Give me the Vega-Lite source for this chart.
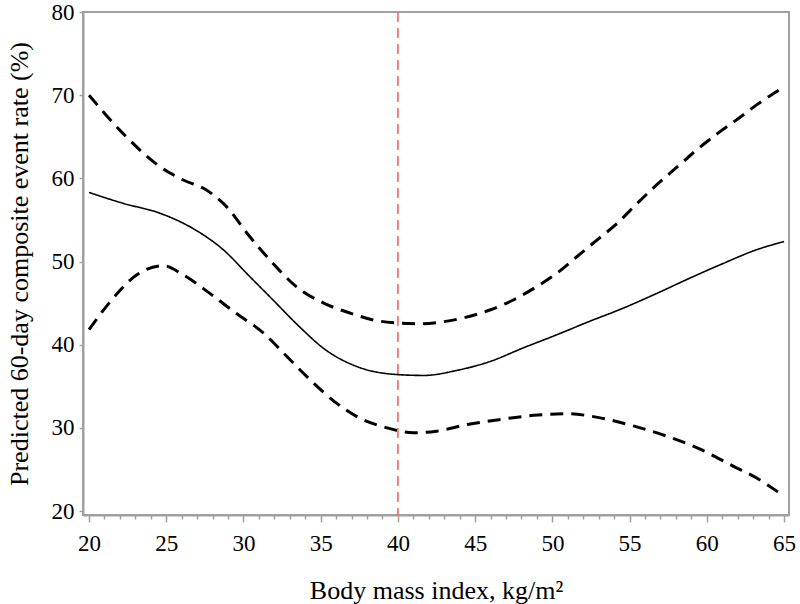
{
  "$schema": "https://vega.github.io/schema/vega-lite/v6.json",
  "autosize": {"type": "none"},
  "padding": {"left": 83, "top": 12, "right": 11, "bottom": 89},
  "width": 706,
  "height": 503,
  "background": "white",
  "config": {
    "view": {"stroke": "#a0a0a0", "strokeWidth": 2},
    "font": "Liberation Serif",
    "axis": {
      "labelFont": "Liberation Serif",
      "titleFont": "Liberation Serif",
      "labelFontSize": 23,
      "titleFontSize": 26,
      "titleFontWeight": "normal",
      "labelColor": "black",
      "titleColor": "black",
      "domainColor": "#a0a0a0",
      "domainWidth": 2,
      "tickColor": "#a0a0a0",
      "tickWidth": 1.5,
      "grid": false
    }
  },
  "datasets": {
    "curves": [
      {"bmi": 20.0, "rate": 70.0, "series": "Upper"},
      {"bmi": 22.2, "rate": 65.4, "series": "Upper"},
      {"bmi": 24.6, "rate": 61.4, "series": "Upper"},
      {"bmi": 26.1, "rate": 59.8, "series": "Upper"},
      {"bmi": 27.6, "rate": 58.6, "series": "Upper"},
      {"bmi": 28.9, "rate": 56.6, "series": "Upper"},
      {"bmi": 30.4, "rate": 53.0, "series": "Upper"},
      {"bmi": 31.9, "rate": 49.8, "series": "Upper"},
      {"bmi": 33.4, "rate": 47.0, "series": "Upper"},
      {"bmi": 35.2, "rate": 45.0, "series": "Upper"},
      {"bmi": 36.9, "rate": 43.8, "series": "Upper"},
      {"bmi": 38.6, "rate": 42.9, "series": "Upper"},
      {"bmi": 40.0, "rate": 42.6, "series": "Upper"},
      {"bmi": 41.3, "rate": 42.5, "series": "Upper"},
      {"bmi": 42.7, "rate": 42.7, "series": "Upper"},
      {"bmi": 44.2, "rate": 43.2, "series": "Upper"},
      {"bmi": 46.0, "rate": 44.2, "series": "Upper"},
      {"bmi": 47.5, "rate": 45.4, "series": "Upper"},
      {"bmi": 49.0, "rate": 47.0, "series": "Upper"},
      {"bmi": 50.3, "rate": 48.6, "series": "Upper"},
      {"bmi": 51.6, "rate": 50.6, "series": "Upper"},
      {"bmi": 52.9, "rate": 52.6, "series": "Upper"},
      {"bmi": 54.2, "rate": 54.6, "series": "Upper"},
      {"bmi": 55.5, "rate": 57.0, "series": "Upper"},
      {"bmi": 56.8, "rate": 59.3, "series": "Upper"},
      {"bmi": 58.1, "rate": 61.4, "series": "Upper"},
      {"bmi": 59.4, "rate": 63.5, "series": "Upper"},
      {"bmi": 60.7, "rate": 65.4, "series": "Upper"},
      {"bmi": 61.9, "rate": 67.0, "series": "Upper"},
      {"bmi": 63.2, "rate": 68.8, "series": "Upper"},
      {"bmi": 65.0, "rate": 71.0, "series": "Upper"},
      {"bmi": 20.0, "rate": 58.3, "series": "Estimate"},
      {"bmi": 22.2, "rate": 57.0, "series": "Estimate"},
      {"bmi": 24.6, "rate": 55.8, "series": "Estimate"},
      {"bmi": 26.7, "rate": 54.0, "series": "Estimate"},
      {"bmi": 28.7, "rate": 51.4, "series": "Estimate"},
      {"bmi": 30.4, "rate": 48.2, "series": "Estimate"},
      {"bmi": 31.9, "rate": 45.4, "series": "Estimate"},
      {"bmi": 33.6, "rate": 42.2, "series": "Estimate"},
      {"bmi": 35.3, "rate": 39.4, "series": "Estimate"},
      {"bmi": 37.3, "rate": 37.4, "series": "Estimate"},
      {"bmi": 40.0, "rate": 36.4, "series": "Estimate"},
      {"bmi": 41.7, "rate": 36.3, "series": "Estimate"},
      {"bmi": 43.8, "rate": 36.9, "series": "Estimate"},
      {"bmi": 46.0, "rate": 38.0, "series": "Estimate"},
      {"bmi": 48.1, "rate": 39.6, "series": "Estimate"},
      {"bmi": 50.3, "rate": 41.2, "series": "Estimate"},
      {"bmi": 52.4, "rate": 42.8, "series": "Estimate"},
      {"bmi": 54.6, "rate": 44.4, "series": "Estimate"},
      {"bmi": 56.8, "rate": 46.2, "series": "Estimate"},
      {"bmi": 58.9, "rate": 48.0, "series": "Estimate"},
      {"bmi": 61.1, "rate": 49.8, "series": "Estimate"},
      {"bmi": 63.2, "rate": 51.4, "series": "Estimate"},
      {"bmi": 65.0, "rate": 52.4, "series": "Estimate"},
      {"bmi": 20.0, "rate": 41.8, "series": "Lower"},
      {"bmi": 21.3, "rate": 45.0, "series": "Lower"},
      {"bmi": 23.1, "rate": 48.4, "series": "Lower"},
      {"bmi": 24.8, "rate": 49.5, "series": "Lower"},
      {"bmi": 26.1, "rate": 48.4, "series": "Lower"},
      {"bmi": 27.8, "rate": 46.2, "series": "Lower"},
      {"bmi": 29.5, "rate": 43.8, "series": "Lower"},
      {"bmi": 31.3, "rate": 41.4, "series": "Lower"},
      {"bmi": 32.8, "rate": 38.6, "series": "Lower"},
      {"bmi": 34.3, "rate": 35.8, "series": "Lower"},
      {"bmi": 36.0, "rate": 33.0, "series": "Lower"},
      {"bmi": 37.5, "rate": 31.2, "series": "Lower"},
      {"bmi": 39.3, "rate": 30.0, "series": "Lower"},
      {"bmi": 41.0, "rate": 29.4, "series": "Lower"},
      {"bmi": 42.5, "rate": 29.6, "series": "Lower"},
      {"bmi": 44.5, "rate": 30.4, "series": "Lower"},
      {"bmi": 46.6, "rate": 31.0, "series": "Lower"},
      {"bmi": 48.8, "rate": 31.5, "series": "Lower"},
      {"bmi": 50.9, "rate": 31.7, "series": "Lower"},
      {"bmi": 53.1, "rate": 31.2, "series": "Lower"},
      {"bmi": 55.3, "rate": 30.2, "series": "Lower"},
      {"bmi": 57.4, "rate": 29.0, "series": "Lower"},
      {"bmi": 59.6, "rate": 27.4, "series": "Lower"},
      {"bmi": 61.7, "rate": 25.4, "series": "Lower"},
      {"bmi": 63.2, "rate": 24.0, "series": "Lower"},
      {"bmi": 64.6, "rate": 22.3, "series": "Lower"},
      {"bmi": 65.0, "rate": 21.8, "series": "Lower"}
    ],
    "ref": [{"bmi": 40}]
  },
  "layer": [
    {
      "data": {"name": "ref"},
      "mark": {"type": "rule", "color": "#ff5a5a", "strokeWidth": 1.5, "strokeDash": [10, 6]},
      "encoding": {
        "x": {
          "field": "bmi",
          "type": "quantitative",
          "scale": {"domain": [19.61, 65.32], "nice": false, "zero": false},
          "axis": {
            "title": "Body mass index, kg/m²",
            "titlePadding": 22,
            "tickCount": 200,
            "values": [20,21,22,23,24,25,26,27,28,29,30,31,32,33,34,35,36,37,38,39,40,41,42,43,44,45,46,47,48,49,50,51,52,53,54,55,56,57,58,59,60,61,62,63,64,65],
            "labelExpr": "datum.value % 5 === 0 ? '' + round(datum.value) : ''",
            "labelOverlap": false,
            "labelFlush": false,
            "labelPadding": 10,
            "tickSize": {"condition": {"test": "datum.value % 5 === 0", "value": 7}, "value": 4}
          }
        }
      }
    },
    {
      "data": {"name": "curves"},
      "mark": {"type": "line", "interpolate": "monotone", "color": "black"},
      "encoding": {
        "x": {"field": "bmi", "type": "quantitative"},
        "y": {
          "field": "rate",
          "type": "quantitative",
          "scale": {"domain": [19.52, 80], "nice": false, "zero": false},
          "axis": {
            "title": "Predicted 60-day composite event rate (%)",
            "values": [20, 30, 40, 50, 60, 70, 80],
            "tickSize": 4,
            "labelPadding": 5,
            "titlePadding": 19,
            "labelFlush": false
          }
        },
        "strokeDash": {
          "field": "series",
          "type": "nominal",
          "scale": {"domain": ["Estimate", "Lower", "Upper"], "range": [[1, 0], [13, 8], [13, 8]]},
          "legend": null
        },
        "strokeWidth": {
          "condition": {"test": "datum.series === 'Estimate'", "value": 1.6},
          "value": 3
        }
      }
    }
  ]
}
